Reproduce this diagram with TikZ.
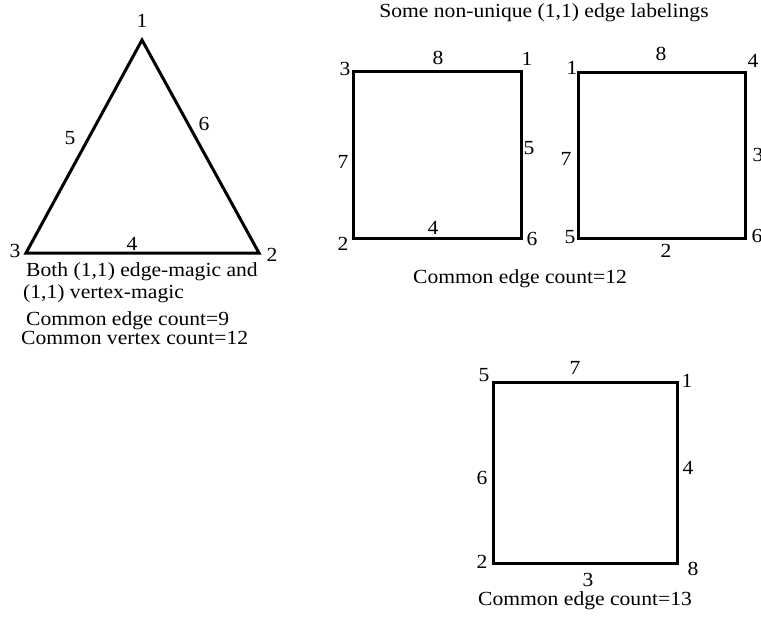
\documentclass[tikz,border=0pt]{standalone}
\usepackage{fontspec}
\setmainfont{Liberation Serif}[FakeStretch=1.08]
\usetikzlibrary{positioning}

\begin{document}
\begin{tikzpicture}[x=1pt,y=-1pt,font=\fontsize{20}{22}\selectfont,
    lab/.style={inner sep=0pt},
    txt/.style={inner sep=0pt,anchor=base west},
    edge/.style={line width=3pt,line join=miter,miter limit=20}]
  \useasboundingbox (0,0) rectangle (761,619);
  % triangle: both edge- and vertex-magic
  \coordinate (ta) at (142,40); \coordinate (tb) at (259,253); \coordinate (tc) at (26,253);
  \draw[edge] (ta) -- (tb) -- (tc) -- cycle;
  \node[lab] (t1) at (142,21) {1}; \node[lab] (t2) at (272,255) {2}; \node[lab] (t3) at (15,251) {3};
  \node[lab] (t5) at (70,138) {5}; \node[lab] (t6) at (204,124) {6}; \node[lab] (t4) at (132,244) {4};
  \node[txt] (tboth) at (26,276) {Both (1,1) edge-magic and};
  \node[txt] (tvert) at (23,298) {(1,1) vertex-magic};
  \node[txt] (tce) at (26,325) {Common edge count=9};
  \node[txt] (tcv) at (21,344) {Common vertex count=12};
  % the non-unique labelings
  \node[lab,anchor=base] (title) at (544,17) {Some non-unique (1,1) edge labelings};
  \coordinate (a1) at (353,71); \coordinate (a2) at (521,71); \coordinate (a3) at (521,238); \coordinate (a4) at (353,238);
  \draw[edge] (a1) -- (a2) -- (a3) -- (a4) -- cycle;
  \node[lab] (av3) at (345,69) {3}; \node[lab] (av1) at (527,59) {1};
  \node[lab] (av6) at (532,239) {6}; \node[lab] (av2) at (343,244) {2};
  \node[lab] (ae8) at (438,58) {8}; \node[lab] (ae5) at (529,148) {5};
  \node[lab] (ae4) at (433,228) {4}; \node[lab] (ae7) at (343,162) {7};
  \coordinate (b1) at (578,72); \coordinate (b2) at (745,72); \coordinate (b3) at (745,238); \coordinate (b4) at (578,238);
  \draw[edge] (b1) -- (b2) -- (b3) -- (b4) -- cycle;
  \node[lab] (bv1) at (572,68) {1}; \node[lab] (bv4) at (753,61) {4};
  \node[lab] (bv6) at (757,236) {6}; \node[lab] (bv5) at (570,237) {5};
  \node[lab] (be8) at (661,54) {8}; \node[lab] (be3) at (758,155) {3};
  \node[lab] (be2) at (666,251) {2}; \node[lab] (be7) at (566,159) {7};
  \node[lab,anchor=base] (ac) at (520,283) {Common edge count=12};
  \coordinate (c1) at (493,382); \coordinate (c2) at (677,382); \coordinate (c3) at (677,563); \coordinate (c4) at (493,563);
  \draw[edge] (c1) -- (c2) -- (c3) -- (c4) -- cycle;
  \node[lab] (cv5) at (484,375) {5}; \node[lab] (cv1) at (687,381) {1};
  \node[lab] (cv8) at (693,569) {8}; \node[lab] (cv2) at (482,562) {2};
  \node[lab] (ce7) at (575,368) {7}; \node[lab] (ce4) at (688,468) {4};
  \node[lab] (ce3) at (588,580) {3}; \node[lab] (ce6) at (482,478) {6};
  \node[lab,anchor=base] (cc) at (585,605) {Common edge count=13};
\end{tikzpicture}
\end{document}
